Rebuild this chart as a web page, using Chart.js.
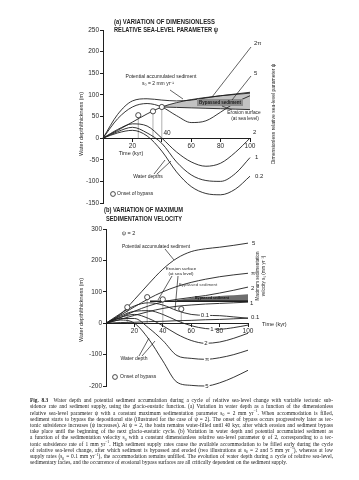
<!DOCTYPE html>
<html>
<head>
<meta charset="utf-8">
<script src="https://cdn.jsdelivr.net/npm/chart.js@4.4.1/dist/chart.umd.min.js"></script>
<style>
  html, body { margin: 0; padding: 0; background: #fff; }
  body { width: 359px; height: 480px; position: relative; overflow: hidden; }
  canvas { position: absolute; left: 0; }
  #chartA { top: 0; }
  #chartB { top: 200px; }
  #caption { position: absolute; left: 30px; top: 397px; width: 606px; transform: scale(0.5); transform-origin: 0 0;
    font-family: "Liberation Serif", "DejaVu Serif", serif; font-size: 10.8px; line-height: 12.4px; color: #1a1a1a; }
  #caption div { text-align: justify; text-align-last: justify; }
  #caption div.last { text-align-last: left; }
  #caption sub, #caption sup { font-size: 70%; line-height: 0; }
</style>
</head>
<body>
<canvas id="chartA" width="359" height="210"></canvas>
<canvas id="chartB" width="359" height="200"></canvas>
<div id="caption">
  <div><b>Fig. 8.3</b>&nbsp; Water depth and potential sediment accumulation during a cycle of relative sea-level change with variable tectonic sub-</div>
  <div>sidence rate and sediment supply, using the glacio-eustatic function. (a) Variation in water depth as a function of the dimensionless</div>
  <div>relative sea-level parameter ψ with a constant maximum sedimentation parameter s<sub>0</sub> = 2 mm yr<sup>−1</sup>. When accommodation is filled,</div>
  <div>sediment starts to bypass the depositional site (illustrated for the case of ψ = 2). The onset of bypass occurs progressively later as tec-</div>
  <div>tonic subsidence increases (ψ increases). At ψ = 2, the basin remains water-filled until 40 kyr, after which erosion and sediment bypass</div>
  <div>take place until the beginning of the next glacio-eustatic cycle. (b) Variation in water depth and potential accumulated sediment as</div>
  <div>a function of the sedimentation velocity s<sub>0</sub> with a constant dimensionless relative sea-level parameter ψ of 2, corresponding to a tec-</div>
  <div>tonic subsidence rate of 1 mm yr<sup>−1</sup>. High sediment supply rates cause the available accommodation to be filled early during the cycle</div>
  <div>of relative sea-level change, after which sediment is bypassed and eroded (two illustrations at s<sub>0</sub> = 2 and 5 mm yr<sup>−1</sup>), whereas at low</div>
  <div>supply rates (s<sub>0</sub> = 0.1 mm yr<sup>−1</sup>), the accommodation remains unfilled. The evolution of water depth during a cycle of relative sea-level,</div>
  <div class="last">sedimentary facies, and the occurrence of erosional bypass surfaces are all critically dependent on the sediment supply.</div>
</div>
<script>
// (a) water depth for different psi, s0 = 2 mm/yr
const timeA = [0, 10, 20, 30, 40, 50, 60, 70, 80, 90, 100];
const depthPsi2pi = [0, 55, 86, 91, 88, 86, 88, 93, 98, 102, 106];
const depthPsi5 = [0, 45, 72, 80, 72, 52, 36, 40, 60, 82, 98];
const depthPsi2 = [0, 20, 33, 28, 0, -32, -55, -65, -58, -33, 0];
const depthPsi1 = [0, 15, 25, 12, -12, -55, -85, -98, -100, -82, -45];
const depthPsi02 = [0, 12, 18, 5, -30, -78, -112, -128, -131, -118, -88];
const potentialSedA = [0, 18, 37, 56, 72, 82, 89, 94, 98, 101, 104];
const bypassTimeA = [40, 50, 60, 70, 80, 90, 100];
const bypassTopA = [72, 82, 89, 94, 98, 101, 104];
const bypassBaseA = [72, 71, 70, 69, 68, 67, 66];
const onsetTimeA = [24, 34, 40];
const onsetThickA = [53, 62, 72];

// (b) psi = 2, different s0
const timeB = [0, 10, 20, 30, 40, 50, 60, 70, 80, 90, 100];
const thickS5 = [0, 28, 75, 125, 172, 207, 228, 237, 242, 248, 255];
const thickSpi = [0, 25, 52, 78, 100, 117, 130, 140, 148, 154, 159];
const thickS2 = [0, 18, 38, 55, 68, 76, 82, 88, 96, 105, 115];
const thickS1 = [0, 12, 25, 37, 47, 54, 58, 61, 63, 65, 67];
const thickS01 = [0, 2, 3, 5, 6, 8, 9, 11, 12, 14, 16];
const depthS01 = [0, 30, 55, 65, 58, 40, 28, 25, 24, 20, 16];
const depthS1 = [0, 22, 38, 40, 28, 8, -8, -17, -19, -14, -6];
const depthS2 = [0, 18, 28, 15, -8, -35, -55, -64, -60, -48, -32];
const depthSpi = [0, 15, 15, -15, -55, -103, -112, -115, -110, -100, -86];
const depthS5 = [0, 10, 0, -50, -120, -188, -198, -200, -190, -172, -150];
const erosionTimeB = [31, 100];
const erosionLevelB = [70, 70];
const bypassTimeB = [50, 60, 70, 80, 90, 100];
const bypassTopB = [73, 80, 84, 87, 89, 92];
const bypassBaseB = [70, 70, 70, 70, 70, 70];
const onsetTimeB = [15, 29, 40, 53];
const onsetThickB = [51, 83, 76, 45];

const INK = '#1f1f1f';
const SANS = '"Liberation Sans", Arial, sans-serif';
Chart.defaults.font.family = SANS;
Chart.defaults.font.size = 6.5;
Chart.defaults.color = '#2a2a2a';

function pts(xs, ys) {
  return xs.map((x, i) => ({ x: x, y: ys[i] }));
}
function curve(xs, ys, extra) {
  return Object.assign({
    data: pts(xs, ys), borderColor: INK, borderWidth: 0.9, pointRadius: 0,
    cubicInterpolationMode: 'monotone', fill: false, clip: false
  }, extra || {});
}
function stick(t, v) {
  return curve([t, t], [0, v], { borderColor: '#9c9c9c', borderWidth: 0.8, cubicInterpolationMode: 'default', tension: 0 });
}
function circles(xs, ys) {
  return { data: pts(xs, ys), showLine: false, pointRadius: 2.6, pointBackgroundColor: '#fff',
           pointBorderColor: INK, pointBorderWidth: 0.8, clip: false };
}

// text helpers for the annotations
function say(ctx, s, x, y, o) {
  o = o || {};
  ctx.save();
  ctx.font = (o.bold ? 'bold ' : '') + (o.size || 5) + 'px ' + SANS;
  ctx.fillStyle = o.color || INK;
  ctx.textAlign = o.align || 'left';
  ctx.textBaseline = 'middle';
  ctx.translate(x, y);
  if (o.rot) ctx.rotate(o.rot);
  if (o.bg) {
    const w = Math.min(ctx.measureText(s).width, o.max || 999);
    const x0 = o.align === 'center' ? -w / 2 : 0;
    ctx.fillStyle = o.bg;
    ctx.fillRect(x0 - 1, -3, w + 2, 6);
    ctx.fillStyle = o.color || INK;
  }
  ctx.fillText(s, 0, 0, o.max);
  ctx.restore();
}
function lead(ctx, a) {
  ctx.save();
  ctx.strokeStyle = INK;
  ctx.lineWidth = 0.7;
  ctx.beginPath();
  ctx.moveTo(a[0], a[1]);
  for (let i = 2; i < a.length; i += 2) ctx.lineTo(a[i], a[i + 1]);
  ctx.stroke();
  ctx.restore();
}
function ring(ctx, x, y) {
  ctx.save();
  ctx.beginPath();
  ctx.arc(x, y, 2.4, 0, Math.PI * 2);
  ctx.fillStyle = '#fff';
  ctx.fill();
  ctx.strokeStyle = INK;
  ctx.lineWidth = 0.8;
  ctx.stroke();
  ctx.restore();
}

const notesA = {
  id: 'notesA',
  afterDraw(chart) {
    const c = chart.ctx;
    say(c, '(a) VARIATION OF DIMENSIONLESS', 114, 22, { bold: true, size: 7, max: 101 });
    say(c, 'RELATIVE SEA-LEVEL PARAMETER ψ', 114, 30, { bold: true, size: 7, max: 104 });
    say(c, 'Water depth/thickness (m)', 81, 124, { size: 5.5, align: 'center', rot: -Math.PI / 2 });
    say(c, 'Dimensionless relative sea-level parameter ψ', 274, 114, { size: 5, align: 'center', rot: -Math.PI / 2 });
    say(c, 'Potential accumulated sediment', 161, 77, { size: 5, align: 'center', max: 73 });
    say(c, 's₀ = 2 mm yr⁻¹', 158, 84, { size: 5, align: 'center' });
    lead(c, [170, 90, 183, 99]);
    c.fillStyle = '#8e8e8e';
    c.fillRect(197, 99, 46, 7);
    say(c, 'Bypassed sediment', 220, 102.5, { bold: true, size: 4.8, align: 'center', max: 42, color: '#1a1a1a' });
    say(c, 'Erosion surface', 244, 113, { size: 4.8, align: 'center' });
    say(c, '(at sea level)', 245, 119, { size: 4.8, align: 'center' });
    lead(c, [232, 110, 222, 106]);
    say(c, '2π', 254, 43, { size: 6 });
    lead(c, [251, 47, 212, 97]);
    say(c, '5', 254, 73, { size: 6 });
    lead(c, [251, 76, 232, 100]);
    say(c, '2', 253, 132, { size: 6 });
    say(c, '1', 255, 157, { size: 6 });
    say(c, '0.2', 255, 176, { size: 6 });
    say(c, '40', 167, 133, { size: 6.5, align: 'center' });
    say(c, 'Time (kyr)', 131, 153, { size: 5.5, align: 'center' });
    say(c, 'Water depths', 148, 177, { size: 5, align: 'center' });
    lead(c, [157, 174, 171, 161]);
    lead(c, [154, 174, 165, 160]);
    ring(c, 113, 194);
    say(c, 'Onset of bypass', 117, 194, { size: 5 });
  }
};

const notesB = {
  id: 'notesB',
  afterDraw(chart) {
    const c = chart.ctx;
    say(c, '(b) VARIATION OF MAXIMUM', 104, 10, { bold: true, size: 7, max: 79 });
    say(c, 'SEDIMENTATION VELOCITY', 106, 19, { bold: true, size: 7, max: 76 });
    say(c, 'Water depth/thickness (m)', 81, 110, { size: 5.5, align: 'center', rot: -Math.PI / 2 });
    say(c, 'Maximum sedimentation', 258, 76, { size: 4.5, align: 'center', rot: -Math.PI / 2 });
    say(c, 'velocity s₀ (mm yr⁻¹)', 264, 76, { size: 4.5, align: 'center', rot: -Math.PI / 2 });
    say(c, 'ψ = 2', 122, 33, { size: 5.5 });
    say(c, 'Potential accumulated sediment', 156, 47, { size: 4.8, align: 'center', max: 72 });
    lead(c, [165, 49, 174, 60]);
    say(c, 'Erosion surface', 181, 69, { size: 4.4, align: 'center' });
    say(c, '(at sea level)', 181, 74, { size: 4.4, align: 'center' });
    lead(c, [172, 76, 158, 100]);
    lead(c, [178, 76, 175, 110]);
    say(c, 'Bypassed sediment', 198, 85, { size: 4.4, align: 'center', color: '#444' });
    say(c, 'Bypassed sediment', 212, 97.5, { bold: true, size: 4, align: 'center', max: 34, color: '#111' });
    say(c, '5', 252, 43, { size: 6 });
    say(c, 'π', 251, 73, { size: 6 });
    say(c, '2', 251, 88, { size: 6 });
    say(c, '1', 250, 103, { size: 6 });
    say(c, '0.1', 251, 117, { size: 6 });
    say(c, '0.1', 205, 115, { size: 6, align: 'center', bg: '#fff' });
    say(c, '1', 212, 129, { size: 6, align: 'center', bg: '#fff' });
    say(c, '2', 206, 143, { size: 6, align: 'center', bg: '#fff' });
    say(c, 'π', 207, 159, { size: 6, align: 'center', bg: '#fff' });
    say(c, '5', 207, 186, { size: 6, align: 'center', bg: '#fff' });
    say(c, 'Time (kyr)', 262, 124, { size: 5.5 });
    say(c, 'Water depth', 134, 159, { size: 5, align: 'center' });
    lead(c, [142, 156, 155, 141]);
    lead(c, [139, 156, 149, 138]);
    ring(c, 115, 177);
    say(c, 'Onset of bypass', 120, 177, { size: 5 });
  }
};

function axes(yMin, yMax, yStep, hideX) {
  return {
    x: {
      type: 'linear', min: 0, max: 100, position: { y: 0 },
      ticks: { stepSize: 20, autoSkip: false, maxRotation: 0, padding: 1,
               callback: v => hideX.includes(v) ? '' : v },
      grid: { drawOnChartArea: false, tickLength: 3, color: INK },
      border: { color: INK, width: 1 }
    },
    y: {
      type: 'linear', min: yMin, max: yMax,
      ticks: { stepSize: yStep, padding: 1 },
      grid: { drawOnChartArea: false, tickLength: 3, color: INK },
      border: { color: INK, width: 1 },
      afterFit: s => { s.width = 28; }
    }
  };
}

new Chart(document.getElementById('chartA'), {
  type: 'line',
  data: {
    datasets: [
      circles(onsetTimeA, onsetThickA),
      curve(timeA, depthPsi2pi),
      curve(timeA, depthPsi5),
      curve(timeA, depthPsi2),
      curve(timeA, depthPsi1),
      curve(timeA, depthPsi02),
      curve(timeA, potentialSedA),
      stick(onsetTimeA[0], onsetThickA[0]),
      stick(onsetTimeA[1], onsetThickA[1]),
      stick(onsetTimeA[2], onsetThickA[2]),
      curve(bypassTimeA, bypassBaseA),
      curve(bypassTimeA, bypassTopA, { borderColor: 'rgba(0,0,0,0)', fill: '-1', backgroundColor: '#c2c2c2' })
    ]
  },
  options: {
    responsive: false, animation: false, devicePixelRatio: 1,
    layout: { padding: { left: 75, right: 109, top: 30, bottom: 7 } },
    plugins: { legend: { display: false }, tooltip: { enabled: false } },
    scales: axes(-150, 250, 50, [0, 40])
  },
  plugins: [notesA]
});

new Chart(document.getElementById('chartB'), {
  type: 'line',
  data: {
    datasets: [
      circles(onsetTimeB, onsetThickB),
      curve(timeB, thickS5),
      curve(timeB, thickSpi),
      curve(timeB, thickS2),
      curve(timeB, thickS1),
      curve(timeB, thickS01),
      curve(timeB, depthS01),
      curve(timeB, depthS1),
      curve(timeB, depthS2),
      curve(timeB, depthSpi),
      curve(timeB, depthS5),
      curve(erosionTimeB, erosionLevelB, { borderWidth: 1.6 }),
      stick(onsetTimeB[0], onsetThickB[0]),
      stick(onsetTimeB[1], onsetThickB[1]),
      stick(onsetTimeB[2], onsetThickB[2]),
      stick(onsetTimeB[3], onsetThickB[3]),
      curve(bypassTimeB, bypassBaseB),
      curve(bypassTimeB, bypassTopB, { borderColor: 'rgba(0,0,0,0)', fill: '-1', backgroundColor: '#6e6e6e' })
    ]
  },
  options: {
    responsive: false, animation: false, devicePixelRatio: 1,
    layout: { padding: { left: 78, right: 111, top: 29, bottom: 14 } },
    plugins: { legend: { display: false }, tooltip: { enabled: false } },
    scales: axes(-200, 300, 100, [0])
  },
  plugins: [notesB]
});
</script>
</body>
</html>
